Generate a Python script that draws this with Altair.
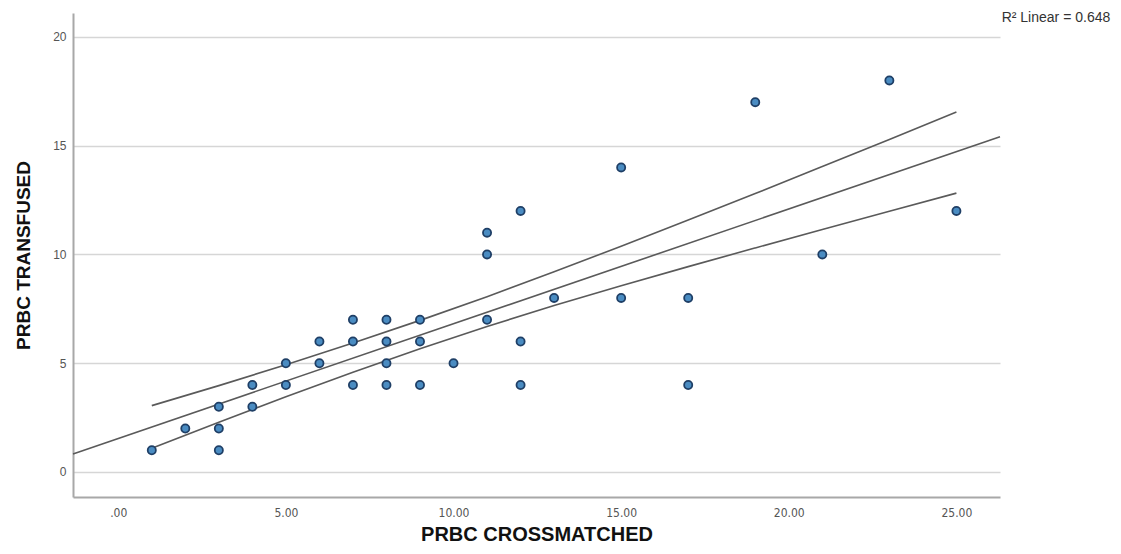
import altair as alt
import pandas as pd

x_crossmatched = [1, 2, 3, 3, 3, 4, 4, 5, 5, 6, 6, 7, 7, 7, 8, 8, 8, 8, 9, 9, 9, 10,
                  11, 11, 11, 12, 12, 12, 13, 15, 15, 17, 17, 19, 21, 23, 25]
y_transfused = [1, 2, 3, 2, 1, 4, 3, 5, 4, 6, 5, 7, 6, 4, 7, 6, 5, 4, 7, 6, 4, 5,
                11, 10, 7, 12, 6, 4, 8, 14, 8, 8, 4, 17, 10, 18, 12]

# Linear fit line (read endpoints)
fit_x = [-1.35, 26.3]
fit_y = [0.83, 15.41]

# 95% CI of the mean
ci_x = [1, 3, 5, 7, 9, 11, 13, 15, 17, 19, 21, 23, 25]
ci_upper = [3.05, 3.97, 4.93, 5.93, 6.97, 8.06, 9.20, 10.38, 11.58, 12.80, 14.04, 15.29, 16.55]
ci_lower = [1.09, 2.29, 3.46, 4.59, 5.67, 6.69, 7.65, 8.56, 9.44, 10.30, 11.15, 11.99, 12.82]

x_ticks = [0, 5, 10, 15, 20, 25]
y_ticks = [0, 5, 10, 15, 20]
r2_label = "R\u00b2 Linear = 0.648"

pts = pd.DataFrame({"x": x_crossmatched, "y": y_transfused})
fit = pd.DataFrame({"x": fit_x, "y": fit_y})
ci = pd.DataFrame({
    "x": ci_x + ci_x,
    "y": ci_upper + ci_lower,
    "bound": ["upper"] * len(ci_x) + ["lower"] * len(ci_x),
})
note = pd.DataFrame({"x": [26.35], "y": [20.85], "t": [r2_label]})

xs = alt.Scale(domain=[-1.35, 26.3], nice=False, zero=False)
ys = alt.Scale(domain=[-1.15, 21.1], nice=False, zero=False)

x_axis = alt.Axis(
    values=x_ticks, grid=False, ticks=False,
    labelExpr="datum.value == 0 ? '.00' : format(datum.value, '.2f')",
    labelFont="'DejaVu Sans Condensed', 'Liberation Sans Narrow', 'Liberation Sans', sans-serif",
    labelFontSize=12, labelColor="#555555",
    labelPadding=10, domainColor="#a8a8a8", domainWidth=2,
    title="PRBC CROSSMATCHED", titleFont="Liberation Sans", titleFontSize=20,
    titleFontWeight="bold", titleColor="#111111", titlePadding=6,
)
y_axis = alt.Axis(
    values=y_ticks, grid=True, gridColor="#d6d6d6", gridWidth=1.5, ticks=False,
    labelFont="Liberation Sans", labelFontSize=12, labelColor="#555555",
    labelPadding=7, domainColor="#a8a8a8", domainWidth=2,
    title="PRBC TRANSFUSED", titleFont="Liberation Sans", titleFontSize=19,
    titleFontWeight="bold", titleColor="#111111", titlePadding=19,
)

points = alt.Chart(pts).mark_point(
    shape="circle", filled=True, size=66, fill="#4a8cc2", stroke="#1f3f66",
    strokeWidth=1.8, opacity=1,
).encode(
    x=alt.X("x:Q", scale=xs, axis=x_axis),
    y=alt.Y("y:Q", scale=ys, axis=y_axis),
)

fit_line = alt.Chart(fit).mark_line(color="#5a5a5a", strokeWidth=1.6).encode(
    x=alt.X("x:Q", scale=xs), y=alt.Y("y:Q", scale=ys)
)

ci_lines = alt.Chart(ci).mark_line(color="#5a5a5a", strokeWidth=1.6, interpolate="monotone").encode(
    x=alt.X("x:Q", scale=xs), y=alt.Y("y:Q", scale=ys), detail="bound:N"
)

r2 = alt.Chart(note).mark_text(
    align="left", baseline="middle", font="Liberation Sans", fontSize=14,
    color="#333333", clip=False,
).encode(x=alt.X("x:Q", scale=xs), y=alt.Y("y:Q", scale=ys), text="t:N")

chart = alt.layer(fit_line, ci_lines, points, r2).properties(
    width=927, height=484,
    autosize=alt.AutoSizeParams(type="none"),
    padding={"left": 65, "top": 5, "right": 112, "bottom": 48},
).configure_view(stroke=None)

chart.save("out.html", embed_options={"renderer": "svg", "actions": False})
